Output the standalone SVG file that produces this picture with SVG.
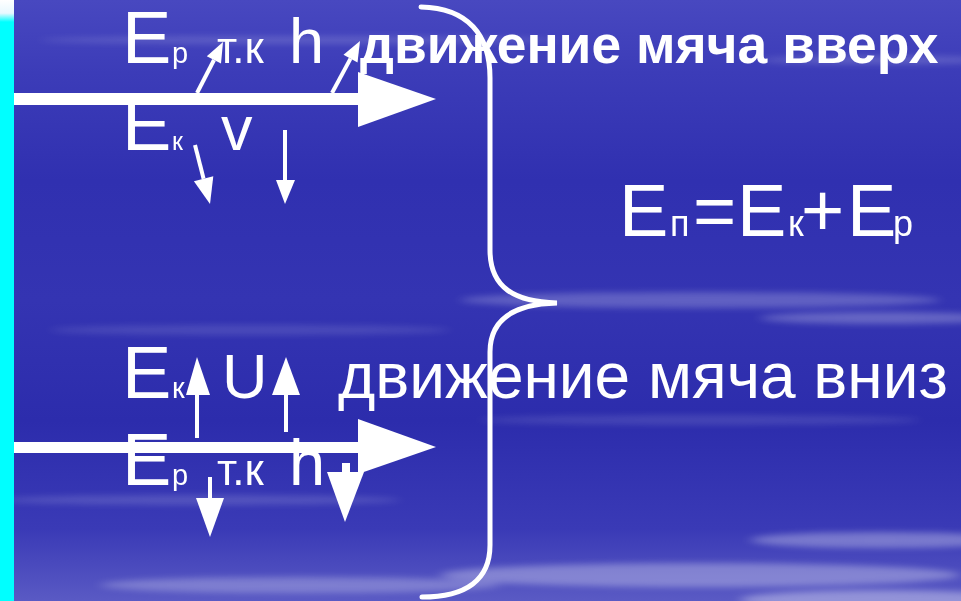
<svg xmlns="http://www.w3.org/2000/svg" width="961" height="601" viewBox="0 0 961 601">
<defs>
<linearGradient id="bg" x1="0" y1="0" x2="0" y2="1">
<stop offset="0" stop-color="#4848c0"/>
<stop offset="0.12" stop-color="#3c3cb8"/>
<stop offset="0.3" stop-color="#3030b0"/>
<stop offset="0.5" stop-color="#3434b2"/>
<stop offset="0.7" stop-color="#2c2cac"/>
<stop offset="0.88" stop-color="#3a3ab6"/>
<stop offset="1" stop-color="#5a5ac4"/>
</linearGradient>
<linearGradient id="corner" x1="0" y1="0" x2="0" y2="1">
<stop offset="0" stop-color="#ffffff"/>
<stop offset="0.6" stop-color="#e8f8ff"/>
<stop offset="1" stop-color="#00ffff"/>
</linearGradient>
<filter id="blur" x="-20%" y="-200%" width="140%" height="500%">
<feGaussianBlur stdDeviation="6 3"/>
</filter>
<style>
.t{fill:#ffffff;font-family:"Liberation Sans",Arial,sans-serif}
.b{font-weight:bold}
.ln{stroke:#ffffff;stroke-width:4;fill:none}
.hd{fill:#ffffff}
.br{stroke:#ffffff;stroke-width:5;fill:none;stroke-linecap:round}
</style>
</defs>
<g id="background">
<rect x="0" y="0" width="961" height="601" fill="url(#bg)"/>
<g filter="url(#blur)" fill="#ffffff">
<ellipse cx="300" cy="40" rx="260" ry="4" opacity="0.15"/>
<ellipse cx="880" cy="60" rx="120" ry="4" opacity="0.18"/>
<ellipse cx="700" cy="300" rx="240" ry="8" opacity="0.22"/>
<ellipse cx="880" cy="318" rx="120" ry="6" opacity="0.25"/>
<ellipse cx="250" cy="330" rx="200" ry="5" opacity="0.12"/>
<ellipse cx="200" cy="500" rx="200" ry="5" opacity="0.15"/>
<ellipse cx="700" cy="420" rx="220" ry="5" opacity="0.12"/>
<ellipse cx="880" cy="540" rx="130" ry="8" opacity="0.3"/>
<ellipse cx="700" cy="575" rx="260" ry="12" opacity="0.3"/>
<ellipse cx="300" cy="585" rx="200" ry="8" opacity="0.25"/>
<ellipse cx="880" cy="600" rx="140" ry="10" opacity="0.35"/>
</g>
<rect x="0" y="0" width="14" height="601" fill="#00ffff"/>
<rect x="0" y="0" width="14" height="22" fill="url(#corner)"/>
</g>
<g id="labels-up">
<text class="t" x="122" y="63" font-size="74">E</text>
<text class="t" x="172" y="63" font-size="29">р</text>
<text class="t" x="217" y="63" font-size="44">т.к</text>
<text class="t" x="289" y="63" font-size="63">h</text>
<text class="t b" x="360" y="63" font-size="53.4">движение мяча вверх</text>
<text class="t" x="122" y="150" font-size="74">E</text>
<text class="t" x="172" y="150" font-size="25">к</text>
<text class="t" x="221" y="150" font-size="63">v</text>
</g>
<g id="labels-down">
<text class="t" x="122" y="398" font-size="74">E</text>
<text class="t" x="172" y="398" font-size="29">к</text>
<text class="t" x="222" y="398" font-size="63">U</text>
<text class="t" x="338" y="398" font-size="64">движение мяча вниз</text>
<text class="t" x="122" y="485" font-size="74">E</text>
<text class="t" x="172" y="485" font-size="29">р</text>
<text class="t" x="217" y="485" font-size="44">т.к</text>
<text class="t" x="289" y="485" font-size="65">h</text>
</g>
<g id="axis-up">
<rect x="14" y="93" width="346" height="12" fill="#ffffff"/>
<polygon points="358,72 436,99 358,127" fill="#ffffff"/>
</g>
<g id="axis-down">
<rect x="14" y="442" width="346" height="11" fill="#ffffff"/>
<polygon points="358,419 436,447 358,474" fill="#ffffff"/>
</g>
<g id="connectors">
<line class="ln" x1="197" y1="93" x2="214" y2="60"/>
<polygon class="hd" points="223,42 221,63.4 206.8,56.2"/>
<line class="ln" x1="332" y1="93" x2="350.5" y2="58.6"/>
<polygon class="hd" points="360,41 357.5,62.4 343.5,54.8"/>
<line class="ln" x1="195" y1="145" x2="203.6" y2="178.8"/>
<polygon class="hd" points="210,204 213.3,176.3 193.9,181.3"/>
<line class="ln" x1="285" y1="130" x2="285" y2="181"/>
<polygon class="hd" points="276,180 295,180 285,204"/>
<line class="ln" x1="197" y1="438" x2="197" y2="394" stroke-width="5"/>
<polygon class="hd" points="186,395 210,395 197,357"/>
<line class="ln" x1="286" y1="432" x2="286" y2="394" stroke-width="5"/>
<polygon class="hd" points="272,395 300,395 286,357"/>
<line class="ln" x1="210" y1="477" x2="210" y2="499" stroke-width="5"/>
<polygon class="hd" points="196,498 224,498 210,537"/>
<rect x="342" y="463" width="8" height="10" fill="#ffffff"/>
<polygon class="hd" points="327,472 364,472 345,522"/>
</g>
<g id="brace">
<path class="br" d="M421,7 C468,8 490,35 490,78 L490,250 C490,288 515,302 557,303 C516,304 490,318 490,352 L490,545 C490,580 466,597 422,597"/>
</g>
<g id="formula">
<text class="t" y="236" font-size="74"><tspan x="619">E</tspan><tspan x="670" font-size="36">п</tspan><tspan x="693">=</tspan><tspan x="737">E</tspan><tspan x="788" font-size="36">к</tspan><tspan x="801">+</tspan><tspan x="847">E</tspan><tspan x="893" font-size="36">р</tspan></text>
</g>
</svg>
